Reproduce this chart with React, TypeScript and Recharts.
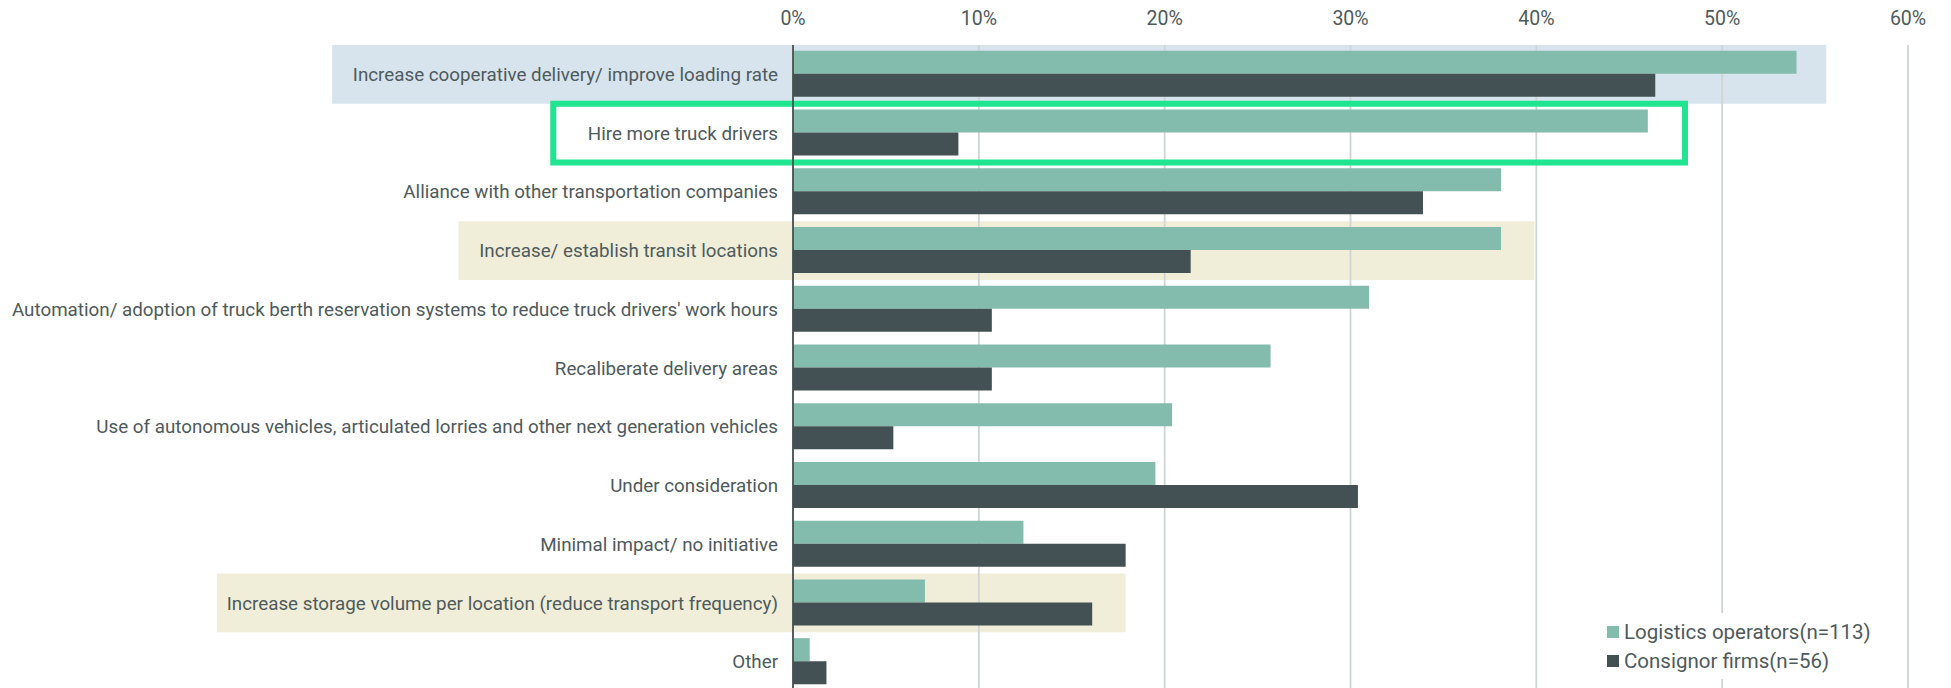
import React from 'react'
import {
  BarChart, Bar, XAxis, YAxis, CartesianGrid, ReferenceArea, Legend,
} from 'recharts'

const categories = [
  'Increase cooperative delivery/ improve loading rate',
  'Hire more truck drivers',
  'Alliance with other transportation companies',
  'Increase/ establish transit locations',
  "Automation/ adoption of truck berth reservation systems to reduce truck drivers' work hours",
  'Recaliberate delivery areas',
  'Use of autonomous vehicles, articulated lorries and other next generation vehicles',
  'Under consideration',
  'Minimal impact/ no initiative',
  'Increase storage volume per location (reduce transport frequency)',
  'Other',
]

// % of respondents
const logisticsOperators = [54.0, 46.0, 38.1, 38.1, 31.0, 25.7, 20.4, 19.5, 12.4, 7.1, 0.9]
const consignorFirms = [46.4, 8.9, 33.9, 21.4, 10.7, 10.7, 5.4, 30.4, 17.9, 16.1, 1.8]

const xTicks = [0, 10, 20, 30, 40, 50, 60]

const seriesNames = ['Logistics operators(n=113)', 'Consignor firms(n=56)']

const data = categories.map((name, i) => ({
  name,
  logistics: logisticsOperators[i],
  consignor: consignorFirms[i],
}))

// highlighted rows (x extents in axis units, reaching into the label area)
const bands = [
  { cat: categories[0], x1: -24.8, x2: 55.6, fill: '#d7e4ee' },
  { cat: categories[3], x1: -18.0, x2: 39.9, fill: '#f0eed8' },
  { cat: categories[9], x1: -31.0, x2: 17.9, fill: '#f0eed8' },
]
const box = { cat: categories[1], x1: -12.9, x2: 48.0 }

const FONT = 'Roboto, "Noto Sans", sans-serif'
const TEXT = '#4e5a5c'
const LIGHT = '#83bbad'
const DARK = '#435155'

function LegendBox({ payload }: any) {
  const items = [...(payload || [])].sort(
    (a: any, b: any) => seriesNames.indexOf(a.value) - seriesNames.indexOf(b.value),
  )
  return (
    <div style={{ background: '#fff', padding: '4px 0 4px 17px', fontFamily: FONT, textAlign: 'left' }}>
      {items.map((p: any) => (
        <div key={p.value} style={{ display: 'flex', alignItems: 'center', height: 29, color: TEXT, fontSize: 20.5 }}>
          <span style={{ width: 12, height: 12, background: p.color, display: 'inline-block', marginRight: 5 }} />
          {p.value}
        </div>
      ))}
    </div>
  )
}

export default function App() {
  return (
    <div style={{ position: 'absolute', left: 0, top: 0 }}>
      <BarChart
        width={1951}
        height={692}
        data={data}
        layout="vertical"
        margin={{ top: 0, right: 43, bottom: 1, left: 0 }}
        barCategoryGap="10%"
        barGap={0}
      >
        {bands.map(b => (
          <ReferenceArea
            key={b.cat}
            y1={b.cat} y2={b.cat} x1={b.x1} x2={b.x2}
            fill={b.fill} fillOpacity={1} stroke="none"
            ifOverflow="visible" zIndex={-200}
          />
        ))}
        <CartesianGrid horizontal={false} stroke="#cfd4d5" strokeWidth={1.8} />
        <XAxis
          type="number" orientation="top" domain={[0, 60]} ticks={xTicks}
          tickFormatter={v => `${v}%`} height={45}
          axisLine={false} tickLine={false} tickSize={0} tickMargin={20}
          tick={{ fontSize: 19.5, fill: TEXT, fontFamily: FONT }}
        />
        <YAxis
          type="category" dataKey="name" width={793}
          axisLine={{ stroke: '#48534f', strokeWidth: 1.8 }} tickLine={false} tickSize={0} tickMargin={15}
          tick={{ fontSize: 18.8, fill: TEXT, fontFamily: FONT }}
          interval={0}
        />
        <ReferenceArea
          y1={box.cat} y2={box.cat} x1={box.x1} x2={box.x2}
          fill="none" stroke="#1fe590" strokeWidth={6}
          ifOverflow="visible"
        />
        <Bar dataKey="logistics" name={seriesNames[0]} fill={LIGHT} isAnimationActive={false} />
        <Bar dataKey="consignor" name={seriesNames[1]} fill={DARK} isAnimationActive={false} />
        <Legend
          content={<LegendBox />}
          layout="horizontal" verticalAlign="middle" align="center"
          wrapperStyle={{ position: 'absolute', left: 1590, top: 613, width: 300, bottom: 'auto', right: 'auto' }}
        />
      </BarChart>
    </div>
  )
}
